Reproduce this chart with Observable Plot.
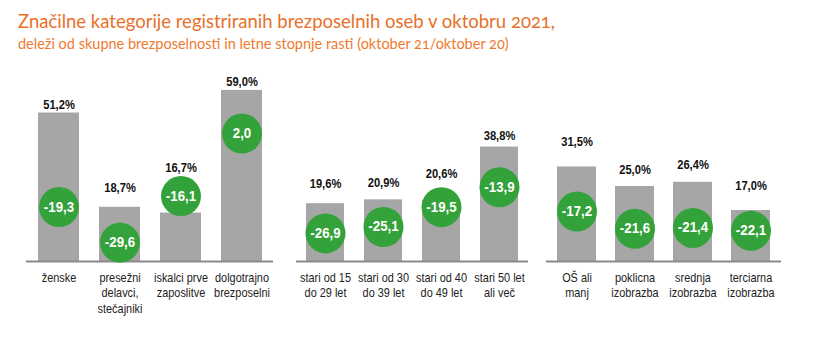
<!DOCTYPE html>
<html>
<head>
<meta charset="utf-8">
<script src="https://cdn.jsdelivr.net/npm/d3@7"></script>
<script src="https://cdn.jsdelivr.net/npm/@observablehq/plot@0.6"></script>
<style>
  body { margin: 0; background: #fff; }
  #wrap { position: relative; width: 830px; height: 349px; overflow: hidden; }
  #title { position: absolute; left: 18px; top: 10px; font-family: Lato, "Open Sans", sans-serif; font-size: 18.5px; color: #E9702A; white-space: nowrap; font-variant-numeric: oldstyle-nums; }
  #subtitle { position: absolute; left: 18px; top: 35px; font-family: Lato, "Open Sans", sans-serif; font-size: 14.5px; color: #EE7A30; white-space: nowrap; font-variant-numeric: oldstyle-nums; }
  .panel { position: absolute; top: 0; }
  .panel svg { background: transparent !important; }
</style>
</head>
<body>
<div id="wrap">
  <div id="title">Značilne kategorije registriranih brezposelnih oseb v oktobru 2021,</div>
  <div id="subtitle">deleži od skupne brezposelnosti in letne stopnje rasti (oktober 21/oktober 20)</div>
</div>
<script>
// ---- data ----
const cats1 = ["ženske", "presežni\ndelavci,\nstečajniki", "iskalci prve\nzaposlitve", "dolgotrajno\nbrezposelni"];
const share1 = [51.2, 18.7, 16.7, 59.0];
const growth1 = [-19.3, -29.6, -16.1, 2.0];

const cats2 = ["stari od 15\ndo 29 let", "stari od 30\ndo 39 let", "stari od 40\ndo 49 let", "stari 50 let\nali več"];
const share2 = [19.6, 20.9, 20.6, 38.8];
const growth2 = [-26.9, -25.1, -19.5, -13.9];

const cats3 = ["OŠ ali\nmanj", "poklicna\nizobrazba", "srednja\nizobrazba", "terciarna\nizobrazba"];
const share3 = [31.5, 25.0, 26.4, 17.0];
const growth3 = [-17.2, -21.6, -21.4, -22.1];

// ---- layout (pixels) ----
const H = 349, base = 261;
const panels = [
  {cats: cats1, share: share1, growth: growth1, left: 26, width: 247, k: 2.9, zero: 140, s: 3.45, pad: 0.336, labelDy: [8, 19, 45, 9]},
  {cats: cats2, share: share2, growth: growth2, left: 296, width: 232, k: 2.95, zero: 137.4, s: 3.55, pad: 0.345, labelDy: [20, 17, 27, 11]},
  {cats: cats3, share: share3, growth: growth3, left: 546, width: 235, k: 3.0, zero: 144, s: 3.9, pad: 0.336, labelDy: [25, 17, 17, 25]}
];
const font = '"Liberation Sans", Arial, sans-serif';
const fmt = v => v.toFixed(1).replace(".", ",");

// condense text horizontally around its anchor (no narrow font installed)
function condense(svg, cls, sx) {
  svg.querySelectorAll(`g.${cls} text`).forEach(t => {
    let tr = t.getAttribute("transform");
    if (!tr) {
      const x = t.getAttribute("x") || 0, y = t.getAttribute("y") || 0;
      t.removeAttribute("x"); t.removeAttribute("y");
      tr = `translate(${x},${y})`;
    }
    t.setAttribute("transform", `${tr} scale(${sx},1)`);
  });
}

const wrap = document.getElementById("wrap");

for (const p of panels) {
  const data = p.cats.map((c, i) => ({cat: c, share: p.share[i], growth: p.growth[i]}));
  const xopt = {type: "band", domain: p.cats, paddingInner: p.pad, paddingOuter: p.pad / 2, axis: null};

  const bars = Plot.plot({
    width: p.width, height: H, margin: 0,
    style: {background: "transparent", fontFamily: font},
    x: xopt,
    y: {domain: [0, 60], range: [base, base - 60 * p.k], axis: null},
    marks: [
      Plot.barY(data, {x: "cat", y: "share", fill: "#a6a6a6"}),
      Plot.ruleY([0], {stroke: "#8a8a8a", strokeWidth: 2}),
      ...data.map((d, i) => Plot.text([d], {x: "cat", y: "share", dy: -p.labelDy[i], text: d => fmt(d.share) + "%", fontSize: 13, fontWeight: "bold", fill: "#111", className: "vlab"})),
      Plot.text(data, {x: "cat", y: 0, text: "cat", lineAnchor: "top", dy: 9, fontSize: 13, lineHeight: 1.2, fill: "#222", className: "clab"})
    ]
  });
  condense(bars, "vlab", 0.86);
  condense(bars, "clab", 0.84);

  const dots = Plot.plot({
    width: p.width, height: H, margin: 0,
    style: {background: "transparent", fontFamily: font},
    x: xopt,
    y: {domain: [0, -30], range: [p.zero, p.zero + 30 * p.s], axis: null},
    marks: [
      Plot.dot(data, {x: "cat", y: "growth", r: 20, fill: "#33a23a", stroke: "none"}),
      Plot.text(data, {x: "cat", y: "growth", text: d => fmt(d.growth), fontSize: 14, fontWeight: "bold", fill: "#fff", className: "glab"})
    ]
  });
  condense(dots, "glab", 0.95);

  for (const svg of [bars, dots]) {
    const div = document.createElement("div");
    div.className = "panel";
    div.style.left = p.left + "px";
    div.appendChild(svg);
    wrap.appendChild(div);
  }
}
</script>
</body>
</html>
